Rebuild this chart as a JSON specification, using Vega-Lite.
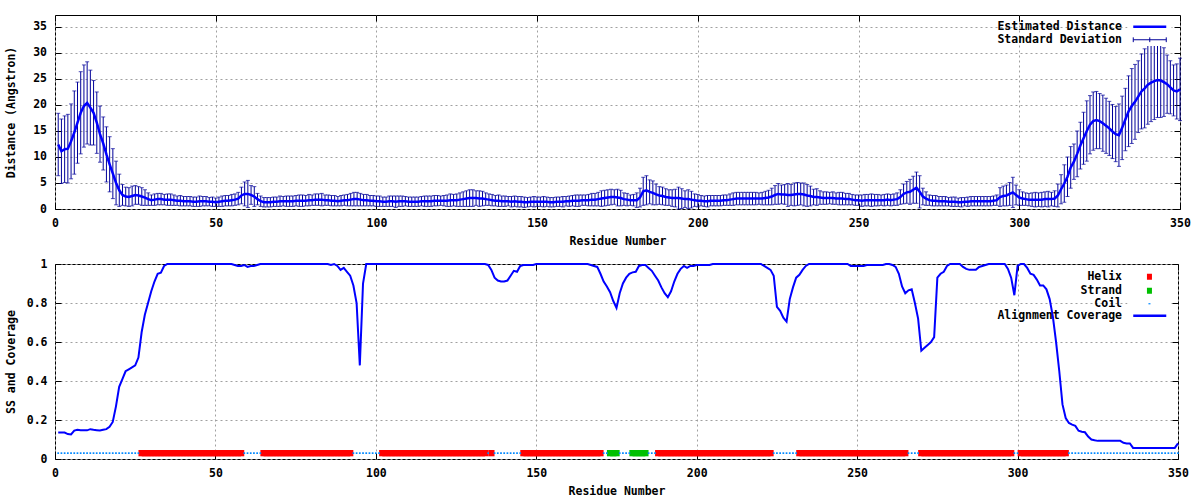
{
"$schema": "https://vega.github.io/schema/vega-lite/v6.json",
"background": "white",
"padding": {"left": 4, "top": 14, "right": 2, "bottom": 2},
"config": {
  "font": "DejaVu Sans Mono",
  "view": {"stroke": "black", "strokeWidth": 1},
  "axis": {"labelFont": "DejaVu Sans Mono", "labelFontWeight": "bold", "labelFontSize": 11.5, "labelColor": "black", "titleFont": "DejaVu Sans Mono", "titleFontWeight": "bold", "titleFontSize": 11.5, "titleColor": "black", "domain": false, "ticks": true, "tickSize": -6, "tickColor": "black", "tickWidth": 1, "gridColor": "#a0a0a0", "gridDash": [2, 3], "gridOpacity": 1, "gridWidth": 1, "labelFlush": false, "labelOverlap": false},
  "legend": {"labelFont": "DejaVu Sans Mono", "labelFontWeight": "bold", "labelFontSize": 11.5, "labelColor": "black", "labelLimit": 0}
},
"data": {"values": [
{"r":1,"d":12.4,"s":6.0,"c":0.136,"ss":"Coil"},
{"r":2,"d":11.1,"s":6.2,"c":0.136,"ss":"Coil"},
{"r":3,"d":11.5,"s":6.4,"c":0.136,"ss":"Coil"},
{"r":4,"d":11.6,"s":6.6,"c":0.128,"ss":"Coil"},
{"r":5,"d":13.0,"s":7.2,"c":0.126,"ss":"Coil"},
{"r":6,"d":14.7,"s":8.0,"c":0.146,"ss":"Coil"},
{"r":7,"d":16.6,"s":7.8,"c":0.15,"ss":"Coil"},
{"r":8,"d":18.5,"s":7.9,"c":0.148,"ss":"Coil"},
{"r":9,"d":19.8,"s":7.9,"c":0.147,"ss":"Coil"},
{"r":10,"d":20.4,"s":7.9,"c":0.147,"ss":"Coil"},
{"r":11,"d":19.5,"s":7.2,"c":0.153,"ss":"Coil"},
{"r":12,"d":18.5,"s":6.2,"c":0.15,"ss":"Coil"},
{"r":13,"d":16.6,"s":5.9,"c":0.148,"ss":"Coil"},
{"r":14,"d":14.4,"s":5.4,"c":0.146,"ss":"Coil"},
{"r":15,"d":12.6,"s":5.1,"c":0.15,"ss":"Coil"},
{"r":16,"d":10.5,"s":5.3,"c":0.153,"ss":"Coil"},
{"r":17,"d":8.6,"s":5.3,"c":0.165,"ss":"Coil"},
{"r":18,"d":6.8,"s":4.8,"c":0.19,"ss":"Coil"},
{"r":19,"d":5.0,"s":4.2,"c":0.27,"ss":"Coil"},
{"r":20,"d":3.6,"s":3.1,"c":0.37,"ss":"Coil"},
{"r":21,"d":2.7,"s":2.0,"c":0.41,"ss":"Coil"},
{"r":22,"d":2.4,"s":1.8,"c":0.45,"ss":"Coil"},
{"r":23,"d":2.3,"s":1.8,"c":0.46,"ss":"Coil"},
{"r":24,"d":2.5,"s":1.9,"c":0.47,"ss":"Coil"},
{"r":25,"d":2.7,"s":1.8,"c":0.48,"ss":"Coil"},
{"r":26,"d":2.6,"s":1.7,"c":0.52,"ss":"Coil"},
{"r":27,"d":2.4,"s":1.7,"c":0.65,"ss":"Helix"},
{"r":28,"d":2.2,"s":1.5,"c":0.74,"ss":"Helix"},
{"r":29,"d":1.9,"s":1.2,"c":0.8,"ss":"Helix"},
{"r":30,"d":1.7,"s":1.0,"c":0.86,"ss":"Helix"},
{"r":31,"d":1.8,"s":1.1,"c":0.91,"ss":"Helix"},
{"r":32,"d":1.9,"s":1.1,"c":0.95,"ss":"Helix"},
{"r":33,"d":1.9,"s":1.1,"c":0.955,"ss":"Helix"},
{"r":34,"d":1.8,"s":1.0,"c":0.99,"ss":"Helix"},
{"r":35,"d":1.8,"s":1.1,"c":1,"ss":"Helix"},
{"r":36,"d":1.8,"s":1.1,"c":1,"ss":"Helix"},
{"r":37,"d":1.7,"s":1.0,"c":1,"ss":"Helix"},
{"r":38,"d":1.6,"s":0.9,"c":1,"ss":"Helix"},
{"r":39,"d":1.6,"s":1.0,"c":1,"ss":"Helix"},
{"r":40,"d":1.5,"s":0.9,"c":1,"ss":"Helix"},
{"r":41,"d":1.5,"s":0.9,"c":1,"ss":"Helix"},
{"r":42,"d":1.5,"s":0.9,"c":1,"ss":"Helix"},
{"r":43,"d":1.4,"s":0.9,"c":1,"ss":"Helix"},
{"r":44,"d":1.4,"s":0.9,"c":1,"ss":"Helix"},
{"r":45,"d":1.5,"s":1.0,"c":1,"ss":"Helix"},
{"r":46,"d":1.5,"s":0.9,"c":1,"ss":"Helix"},
{"r":47,"d":1.5,"s":0.9,"c":1,"ss":"Helix"},
{"r":48,"d":1.4,"s":0.8,"c":1,"ss":"Helix"},
{"r":49,"d":1.4,"s":0.9,"c":1,"ss":"Helix"},
{"r":50,"d":1.3,"s":0.8,"c":1,"ss":"Helix"},
{"r":51,"d":1.4,"s":0.9,"c":1,"ss":"Helix"},
{"r":52,"d":1.5,"s":1.0,"c":1,"ss":"Helix"},
{"r":53,"d":1.6,"s":1.0,"c":1,"ss":"Helix"},
{"r":54,"d":1.6,"s":1.0,"c":1,"ss":"Helix"},
{"r":55,"d":1.7,"s":1.1,"c":1,"ss":"Helix"},
{"r":56,"d":1.8,"s":1.1,"c":0.995,"ss":"Helix"},
{"r":57,"d":2.0,"s":1.2,"c":0.99,"ss":"Helix"},
{"r":58,"d":2.6,"s":1.6,"c":0.99,"ss":"Helix"},
{"r":59,"d":2.9,"s":2.3,"c":0.995,"ss":"Coil"},
{"r":60,"d":2.9,"s":2.6,"c":0.985,"ss":"Coil"},
{"r":61,"d":2.7,"s":1.8,"c":0.99,"ss":"Coil"},
{"r":62,"d":2.4,"s":1.9,"c":0.99,"ss":"Coil"},
{"r":63,"d":1.9,"s":1.1,"c":0.995,"ss":"Coil"},
{"r":64,"d":1.5,"s":1.0,"c":1,"ss":"Coil"},
{"r":65,"d":1.3,"s":0.9,"c":1,"ss":"Helix"},
{"r":66,"d":1.3,"s":0.9,"c":1,"ss":"Helix"},
{"r":67,"d":1.3,"s":0.9,"c":1,"ss":"Helix"},
{"r":68,"d":1.4,"s":0.9,"c":1,"ss":"Helix"},
{"r":69,"d":1.4,"s":0.9,"c":1,"ss":"Helix"},
{"r":70,"d":1.5,"s":1.0,"c":1,"ss":"Helix"},
{"r":71,"d":1.5,"s":0.9,"c":1,"ss":"Helix"},
{"r":72,"d":1.5,"s":1.0,"c":1,"ss":"Helix"},
{"r":73,"d":1.5,"s":1.0,"c":1,"ss":"Helix"},
{"r":74,"d":1.5,"s":1.0,"c":1,"ss":"Helix"},
{"r":75,"d":1.6,"s":1.0,"c":1,"ss":"Helix"},
{"r":76,"d":1.6,"s":1.1,"c":1,"ss":"Helix"},
{"r":77,"d":1.6,"s":1.1,"c":1,"ss":"Helix"},
{"r":78,"d":1.6,"s":1.0,"c":1,"ss":"Helix"},
{"r":79,"d":1.7,"s":1.1,"c":1,"ss":"Helix"},
{"r":80,"d":1.7,"s":1.0,"c":1,"ss":"Helix"},
{"r":81,"d":1.8,"s":1.1,"c":1,"ss":"Helix"},
{"r":82,"d":1.8,"s":1.1,"c":1,"ss":"Helix"},
{"r":83,"d":1.8,"s":1.2,"c":1,"ss":"Helix"},
{"r":84,"d":1.7,"s":1.0,"c":1,"ss":"Helix"},
{"r":85,"d":1.7,"s":1.0,"c":1,"ss":"Helix"},
{"r":86,"d":1.6,"s":1.0,"c":0.995,"ss":"Helix"},
{"r":87,"d":1.6,"s":1.0,"c":1,"ss":"Helix"},
{"r":88,"d":1.5,"s":0.9,"c":0.99,"ss":"Helix"},
{"r":89,"d":1.6,"s":1.0,"c":0.97,"ss":"Helix"},
{"r":90,"d":1.7,"s":1.0,"c":0.98,"ss":"Helix"},
{"r":91,"d":1.7,"s":1.1,"c":0.96,"ss":"Helix"},
{"r":92,"d":1.8,"s":1.2,"c":0.94,"ss":"Helix"},
{"r":93,"d":1.9,"s":1.3,"c":0.89,"ss":"Coil"},
{"r":94,"d":1.9,"s":1.3,"c":0.8,"ss":"Coil"},
{"r":95,"d":1.8,"s":1.2,"c":0.48,"ss":"Coil"},
{"r":96,"d":1.7,"s":1.1,"c":0.9,"ss":"Coil"},
{"r":97,"d":1.7,"s":1.1,"c":1,"ss":"Coil"},
{"r":98,"d":1.6,"s":1.0,"c":1,"ss":"Coil"},
{"r":99,"d":1.6,"s":1.0,"c":1,"ss":"Coil"},
{"r":100,"d":1.5,"s":1.0,"c":1,"ss":"Coil"},
{"r":101,"d":1.5,"s":1.0,"c":1,"ss":"Coil"},
{"r":102,"d":1.4,"s":0.9,"c":1,"ss":"Helix"},
{"r":103,"d":1.4,"s":0.9,"c":1,"ss":"Helix"},
{"r":104,"d":1.5,"s":1.0,"c":1,"ss":"Helix"},
{"r":105,"d":1.5,"s":1.0,"c":1,"ss":"Helix"},
{"r":106,"d":1.4,"s":1.1,"c":1,"ss":"Helix"},
{"r":107,"d":1.5,"s":1.0,"c":1,"ss":"Helix"},
{"r":108,"d":1.5,"s":1.0,"c":1,"ss":"Helix"},
{"r":109,"d":1.5,"s":0.9,"c":1,"ss":"Helix"},
{"r":110,"d":1.4,"s":0.9,"c":1,"ss":"Helix"},
{"r":111,"d":1.4,"s":0.9,"c":1,"ss":"Helix"},
{"r":112,"d":1.4,"s":0.9,"c":1,"ss":"Helix"},
{"r":113,"d":1.4,"s":0.9,"c":1,"ss":"Helix"},
{"r":114,"d":1.5,"s":0.9,"c":1,"ss":"Helix"},
{"r":115,"d":1.5,"s":1.0,"c":1,"ss":"Helix"},
{"r":116,"d":1.5,"s":1.0,"c":1,"ss":"Helix"},
{"r":117,"d":1.5,"s":1.0,"c":1,"ss":"Helix"},
{"r":118,"d":1.6,"s":1.0,"c":1,"ss":"Helix"},
{"r":119,"d":1.6,"s":1.0,"c":1,"ss":"Helix"},
{"r":120,"d":1.6,"s":0.9,"c":1,"ss":"Helix"},
{"r":121,"d":1.6,"s":1.0,"c":1,"ss":"Helix"},
{"r":122,"d":1.6,"s":1.1,"c":1,"ss":"Helix"},
{"r":123,"d":1.7,"s":1.2,"c":1,"ss":"Helix"},
{"r":124,"d":1.7,"s":1.1,"c":1,"ss":"Helix"},
{"r":125,"d":1.7,"s":1.2,"c":1,"ss":"Helix"},
{"r":126,"d":1.8,"s":1.3,"c":1,"ss":"Helix"},
{"r":127,"d":1.9,"s":1.4,"c":1,"ss":"Helix"},
{"r":128,"d":2.0,"s":1.5,"c":1,"ss":"Helix"},
{"r":129,"d":2.1,"s":1.6,"c":1,"ss":"Helix"},
{"r":130,"d":2.1,"s":1.6,"c":1,"ss":"Helix"},
{"r":131,"d":2.1,"s":1.4,"c":1,"ss":"Helix"},
{"r":132,"d":2.0,"s":1.5,"c":1,"ss":"Helix"},
{"r":133,"d":2.0,"s":1.4,"c":1,"ss":"Helix"},
{"r":134,"d":1.9,"s":1.2,"c":1,"ss":"Helix"},
{"r":135,"d":1.8,"s":1.1,"c":0.995,"ss":"Coil"},
{"r":136,"d":1.7,"s":1.1,"c":0.97,"ss":"Helix"},
{"r":137,"d":1.6,"s":1.0,"c":0.93,"ss":"Coil"},
{"r":138,"d":1.6,"s":1.1,"c":0.915,"ss":"Coil"},
{"r":139,"d":1.5,"s":1.0,"c":0.91,"ss":"Coil"},
{"r":140,"d":1.5,"s":1.0,"c":0.91,"ss":"Coil"},
{"r":141,"d":1.5,"s":0.9,"c":0.915,"ss":"Coil"},
{"r":142,"d":1.4,"s":1.0,"c":0.94,"ss":"Coil"},
{"r":143,"d":1.5,"s":1.0,"c":0.965,"ss":"Coil"},
{"r":144,"d":1.4,"s":1.0,"c":0.96,"ss":"Coil"},
{"r":145,"d":1.4,"s":1.0,"c":0.99,"ss":"Coil"},
{"r":146,"d":1.3,"s":1.0,"c":0.995,"ss":"Helix"},
{"r":147,"d":1.3,"s":0.9,"c":0.995,"ss":"Helix"},
{"r":148,"d":1.4,"s":0.9,"c":0.995,"ss":"Helix"},
{"r":149,"d":1.4,"s":1.0,"c":0.995,"ss":"Helix"},
{"r":150,"d":1.4,"s":0.9,"c":1,"ss":"Helix"},
{"r":151,"d":1.4,"s":0.9,"c":1,"ss":"Helix"},
{"r":152,"d":1.4,"s":1.0,"c":1,"ss":"Helix"},
{"r":153,"d":1.4,"s":0.9,"c":1,"ss":"Helix"},
{"r":154,"d":1.3,"s":0.9,"c":1,"ss":"Helix"},
{"r":155,"d":1.3,"s":0.9,"c":1,"ss":"Helix"},
{"r":156,"d":1.4,"s":0.9,"c":1,"ss":"Helix"},
{"r":157,"d":1.4,"s":0.9,"c":1,"ss":"Helix"},
{"r":158,"d":1.4,"s":1.0,"c":1,"ss":"Helix"},
{"r":159,"d":1.5,"s":0.9,"c":1,"ss":"Helix"},
{"r":160,"d":1.5,"s":1.0,"c":1,"ss":"Helix"},
{"r":161,"d":1.6,"s":1.0,"c":1,"ss":"Helix"},
{"r":162,"d":1.6,"s":1.1,"c":1,"ss":"Helix"},
{"r":163,"d":1.6,"s":1.1,"c":1,"ss":"Helix"},
{"r":164,"d":1.7,"s":1.0,"c":1,"ss":"Helix"},
{"r":165,"d":1.7,"s":1.0,"c":1,"ss":"Helix"},
{"r":166,"d":1.7,"s":1.1,"c":1,"ss":"Helix"},
{"r":167,"d":1.8,"s":1.2,"c":0.995,"ss":"Helix"},
{"r":168,"d":1.8,"s":1.2,"c":0.99,"ss":"Helix"},
{"r":169,"d":1.9,"s":1.3,"c":0.985,"ss":"Helix"},
{"r":170,"d":2.0,"s":1.5,"c":0.95,"ss":"Helix"},
{"r":171,"d":2.1,"s":1.5,"c":0.91,"ss":"Coil"},
{"r":172,"d":2.2,"s":1.5,"c":0.885,"ss":"Coil"},
{"r":173,"d":2.3,"s":1.5,"c":0.855,"ss":"Strand"},
{"r":174,"d":2.3,"s":1.4,"c":0.81,"ss":"Strand"},
{"r":175,"d":2.2,"s":1.6,"c":0.775,"ss":"Strand"},
{"r":176,"d":2.1,"s":1.5,"c":0.85,"ss":"Coil"},
{"r":177,"d":1.9,"s":1.2,"c":0.9,"ss":"Coil"},
{"r":178,"d":1.8,"s":1.2,"c":0.93,"ss":"Coil"},
{"r":179,"d":1.7,"s":1.0,"c":0.95,"ss":"Coil"},
{"r":180,"d":1.7,"s":1.1,"c":0.957,"ss":"Strand"},
{"r":181,"d":1.7,"s":1.4,"c":0.96,"ss":"Strand"},
{"r":182,"d":2.2,"s":1.8,"c":0.99,"ss":"Strand"},
{"r":183,"d":3.4,"s":2.7,"c":0.995,"ss":"Strand"},
{"r":184,"d":3.6,"s":2.8,"c":0.995,"ss":"Strand"},
{"r":185,"d":3.3,"s":2.3,"c":0.98,"ss":"Coil"},
{"r":186,"d":3.1,"s":2.3,"c":0.965,"ss":"Coil"},
{"r":187,"d":2.8,"s":2.0,"c":0.94,"ss":"Coil"},
{"r":188,"d":2.6,"s":1.7,"c":0.915,"ss":"Helix"},
{"r":189,"d":2.5,"s":1.7,"c":0.88,"ss":"Helix"},
{"r":190,"d":2.3,"s":1.6,"c":0.85,"ss":"Helix"},
{"r":191,"d":2.2,"s":1.5,"c":0.83,"ss":"Helix"},
{"r":192,"d":2.1,"s":1.6,"c":0.86,"ss":"Helix"},
{"r":193,"d":2.1,"s":1.7,"c":0.91,"ss":"Helix"},
{"r":194,"d":2.1,"s":2.1,"c":0.95,"ss":"Helix"},
{"r":195,"d":2.0,"s":1.9,"c":0.975,"ss":"Helix"},
{"r":196,"d":1.9,"s":1.6,"c":0.99,"ss":"Helix"},
{"r":197,"d":1.9,"s":1.8,"c":0.98,"ss":"Helix"},
{"r":198,"d":1.8,"s":1.6,"c":0.99,"ss":"Helix"},
{"r":199,"d":1.7,"s":1.2,"c":0.99,"ss":"Helix"},
{"r":200,"d":1.6,"s":1.2,"c":0.995,"ss":"Helix"},
{"r":201,"d":1.6,"s":1.0,"c":0.995,"ss":"Helix"},
{"r":202,"d":1.5,"s":1.0,"c":0.995,"ss":"Helix"},
{"r":203,"d":1.5,"s":1.1,"c":0.995,"ss":"Helix"},
{"r":204,"d":1.6,"s":1.0,"c":0.995,"ss":"Helix"},
{"r":205,"d":1.6,"s":1.0,"c":1,"ss":"Helix"},
{"r":206,"d":1.6,"s":1.0,"c":1,"ss":"Helix"},
{"r":207,"d":1.6,"s":1.0,"c":1,"ss":"Helix"},
{"r":208,"d":1.7,"s":1.0,"c":1,"ss":"Helix"},
{"r":209,"d":1.7,"s":1.0,"c":1,"ss":"Helix"},
{"r":210,"d":1.8,"s":1.1,"c":1,"ss":"Helix"},
{"r":211,"d":1.9,"s":1.2,"c":1,"ss":"Helix"},
{"r":212,"d":2.0,"s":1.2,"c":1,"ss":"Helix"},
{"r":213,"d":2.0,"s":1.2,"c":1,"ss":"Helix"},
{"r":214,"d":2.0,"s":1.2,"c":1,"ss":"Helix"},
{"r":215,"d":2.0,"s":1.2,"c":1,"ss":"Helix"},
{"r":216,"d":2.0,"s":1.2,"c":1,"ss":"Helix"},
{"r":217,"d":2.0,"s":1.2,"c":1,"ss":"Helix"},
{"r":218,"d":2.0,"s":1.2,"c":1,"ss":"Helix"},
{"r":219,"d":2.0,"s":1.1,"c":1,"ss":"Helix"},
{"r":220,"d":2.0,"s":1.2,"c":1,"ss":"Helix"},
{"r":221,"d":2.1,"s":1.3,"c":0.99,"ss":"Helix"},
{"r":222,"d":2.2,"s":1.4,"c":0.98,"ss":"Helix"},
{"r":223,"d":2.4,"s":1.6,"c":0.97,"ss":"Helix"},
{"r":224,"d":2.7,"s":1.8,"c":0.94,"ss":"Coil"},
{"r":225,"d":2.9,"s":2.0,"c":0.78,"ss":"Coil"},
{"r":226,"d":2.8,"s":1.8,"c":0.76,"ss":"Coil"},
{"r":227,"d":2.8,"s":1.9,"c":0.725,"ss":"Coil"},
{"r":228,"d":2.7,"s":2.2,"c":0.705,"ss":"Coil"},
{"r":229,"d":2.7,"s":2.0,"c":0.82,"ss":"Coil"},
{"r":230,"d":2.8,"s":2.2,"c":0.88,"ss":"Coil"},
{"r":231,"d":2.9,"s":2.2,"c":0.93,"ss":"Coil"},
{"r":232,"d":2.9,"s":2.1,"c":0.945,"ss":"Helix"},
{"r":233,"d":2.8,"s":2.2,"c":0.97,"ss":"Helix"},
{"r":234,"d":2.6,"s":2.1,"c":0.99,"ss":"Helix"},
{"r":235,"d":2.5,"s":1.9,"c":1,"ss":"Helix"},
{"r":236,"d":2.3,"s":1.5,"c":1,"ss":"Helix"},
{"r":237,"d":2.3,"s":1.6,"c":1,"ss":"Helix"},
{"r":238,"d":2.2,"s":1.3,"c":1,"ss":"Helix"},
{"r":239,"d":2.1,"s":1.2,"c":1,"ss":"Helix"},
{"r":240,"d":2.1,"s":1.2,"c":1,"ss":"Helix"},
{"r":241,"d":2.1,"s":1.1,"c":1,"ss":"Helix"},
{"r":242,"d":2.1,"s":1.2,"c":1,"ss":"Helix"},
{"r":243,"d":2.0,"s":1.1,"c":1,"ss":"Helix"},
{"r":244,"d":2.0,"s":1.2,"c":1,"ss":"Helix"},
{"r":245,"d":2.0,"s":1.2,"c":1,"ss":"Helix"},
{"r":246,"d":1.9,"s":1.1,"c":1,"ss":"Helix"},
{"r":247,"d":1.9,"s":1.1,"c":1,"ss":"Helix"},
{"r":248,"d":1.8,"s":1.0,"c":0.99,"ss":"Helix"},
{"r":249,"d":1.7,"s":1.0,"c":0.99,"ss":"Helix"},
{"r":250,"d":1.7,"s":1.0,"c":0.99,"ss":"Helix"},
{"r":251,"d":1.6,"s":1.1,"c":0.99,"ss":"Helix"},
{"r":252,"d":1.7,"s":1.1,"c":0.99,"ss":"Helix"},
{"r":253,"d":1.7,"s":1.1,"c":0.995,"ss":"Helix"},
{"r":254,"d":1.7,"s":1.2,"c":0.995,"ss":"Helix"},
{"r":255,"d":1.7,"s":1.1,"c":0.995,"ss":"Helix"},
{"r":256,"d":1.7,"s":1.1,"c":0.995,"ss":"Helix"},
{"r":257,"d":1.7,"s":1.0,"c":0.995,"ss":"Helix"},
{"r":258,"d":1.7,"s":1.1,"c":0.995,"ss":"Helix"},
{"r":259,"d":1.8,"s":1.1,"c":1,"ss":"Helix"},
{"r":260,"d":1.7,"s":1.1,"c":1,"ss":"Helix"},
{"r":261,"d":1.8,"s":1.1,"c":0.995,"ss":"Helix"},
{"r":262,"d":1.9,"s":1.2,"c":0.985,"ss":"Helix"},
{"r":263,"d":2.3,"s":1.4,"c":0.95,"ss":"Helix"},
{"r":264,"d":2.9,"s":1.9,"c":0.885,"ss":"Helix"},
{"r":265,"d":3.2,"s":2.1,"c":0.85,"ss":"Helix"},
{"r":266,"d":3.3,"s":2.4,"c":0.865,"ss":"Coil"},
{"r":267,"d":3.7,"s":2.6,"c":0.87,"ss":"Coil"},
{"r":268,"d":4.1,"s":3.0,"c":0.8,"ss":"Coil"},
{"r":269,"d":3.3,"s":3.1,"c":0.72,"ss":"Coil"},
{"r":270,"d":2.4,"s":1.6,"c":0.555,"ss":"Helix"},
{"r":271,"d":2.0,"s":1.3,"c":0.57,"ss":"Helix"},
{"r":272,"d":1.7,"s":1.0,"c":0.585,"ss":"Helix"},
{"r":273,"d":1.6,"s":1.0,"c":0.6,"ss":"Helix"},
{"r":274,"d":1.6,"s":1.0,"c":0.625,"ss":"Helix"},
{"r":275,"d":1.5,"s":0.9,"c":0.93,"ss":"Helix"},
{"r":276,"d":1.5,"s":0.9,"c":0.95,"ss":"Helix"},
{"r":277,"d":1.5,"s":0.9,"c":0.96,"ss":"Helix"},
{"r":278,"d":1.4,"s":0.8,"c":0.99,"ss":"Helix"},
{"r":279,"d":1.4,"s":0.9,"c":1,"ss":"Helix"},
{"r":280,"d":1.4,"s":0.9,"c":1,"ss":"Helix"},
{"r":281,"d":1.3,"s":0.8,"c":1,"ss":"Helix"},
{"r":282,"d":1.3,"s":0.9,"c":1,"ss":"Helix"},
{"r":283,"d":1.4,"s":0.8,"c":0.985,"ss":"Helix"},
{"r":284,"d":1.4,"s":0.9,"c":0.975,"ss":"Helix"},
{"r":285,"d":1.5,"s":0.9,"c":0.97,"ss":"Helix"},
{"r":286,"d":1.5,"s":0.9,"c":0.97,"ss":"Helix"},
{"r":287,"d":1.5,"s":0.9,"c":0.97,"ss":"Helix"},
{"r":288,"d":1.5,"s":0.9,"c":0.985,"ss":"Helix"},
{"r":289,"d":1.5,"s":0.9,"c":0.99,"ss":"Helix"},
{"r":290,"d":1.5,"s":0.9,"c":0.995,"ss":"Helix"},
{"r":291,"d":1.5,"s":0.9,"c":1,"ss":"Helix"},
{"r":292,"d":1.6,"s":0.9,"c":1,"ss":"Helix"},
{"r":293,"d":1.7,"s":1.0,"c":1,"ss":"Helix"},
{"r":294,"d":2.3,"s":1.8,"c":1,"ss":"Helix"},
{"r":295,"d":2.5,"s":1.9,"c":1,"ss":"Helix"},
{"r":296,"d":2.6,"s":2.0,"c":1,"ss":"Helix"},
{"r":297,"d":2.9,"s":2.2,"c":0.975,"ss":"Helix"},
{"r":298,"d":3.2,"s":2.9,"c":0.93,"ss":"Helix"},
{"r":299,"d":2.7,"s":1.9,"c":0.84,"ss":"Coil"},
{"r":300,"d":2.2,"s":1.5,"c":0.99,"ss":"Coil"},
{"r":301,"d":2.0,"s":1.3,"c":1,"ss":"Helix"},
{"r":302,"d":1.9,"s":1.2,"c":1,"ss":"Helix"},
{"r":303,"d":1.8,"s":1.2,"c":0.98,"ss":"Helix"},
{"r":304,"d":1.8,"s":1.3,"c":0.95,"ss":"Helix"},
{"r":305,"d":1.8,"s":1.4,"c":0.944,"ss":"Helix"},
{"r":306,"d":1.8,"s":1.3,"c":0.92,"ss":"Helix"},
{"r":307,"d":1.8,"s":1.4,"c":0.89,"ss":"Helix"},
{"r":308,"d":1.9,"s":1.4,"c":0.89,"ss":"Helix"},
{"r":309,"d":1.9,"s":1.5,"c":0.87,"ss":"Helix"},
{"r":310,"d":1.9,"s":1.3,"c":0.82,"ss":"Helix"},
{"r":311,"d":2.0,"s":1.5,"c":0.73,"ss":"Helix"},
{"r":312,"d":2.6,"s":2.2,"c":0.6,"ss":"Helix"},
{"r":313,"d":3.8,"s":2.8,"c":0.45,"ss":"Helix"},
{"r":314,"d":4.9,"s":3.6,"c":0.28,"ss":"Helix"},
{"r":315,"d":6.2,"s":3.8,"c":0.21,"ss":"Helix"},
{"r":316,"d":8.0,"s":4.0,"c":0.185,"ss":"Coil"},
{"r":317,"d":9.1,"s":3.4,"c":0.176,"ss":"Coil"},
{"r":318,"d":10.6,"s":4.4,"c":0.17,"ss":"Coil"},
{"r":319,"d":12.2,"s":4.5,"c":0.145,"ss":"Coil"},
{"r":320,"d":13.6,"s":5.0,"c":0.14,"ss":"Coil"},
{"r":321,"d":15.0,"s":5.8,"c":0.137,"ss":"Coil"},
{"r":322,"d":16.2,"s":5.6,"c":0.115,"ss":"Coil"},
{"r":323,"d":16.9,"s":5.6,"c":0.1,"ss":"Coil"},
{"r":324,"d":17.1,"s":5.5,"c":0.096,"ss":"Coil"},
{"r":325,"d":16.9,"s":5.3,"c":0.093,"ss":"Coil"},
{"r":326,"d":16.5,"s":5.4,"c":0.093,"ss":"Coil"},
{"r":327,"d":16.0,"s":5.3,"c":0.093,"ss":"Coil"},
{"r":328,"d":15.5,"s":5.2,"c":0.093,"ss":"Coil"},
{"r":329,"d":14.9,"s":5.2,"c":0.093,"ss":"Coil"},
{"r":330,"d":14.4,"s":5.3,"c":0.093,"ss":"Coil"},
{"r":331,"d":14.2,"s":6.0,"c":0.093,"ss":"Coil"},
{"r":332,"d":15.6,"s":6.1,"c":0.093,"ss":"Coil"},
{"r":333,"d":17.2,"s":6.0,"c":0.083,"ss":"Coil"},
{"r":334,"d":18.8,"s":6.8,"c":0.08,"ss":"Coil"},
{"r":335,"d":19.8,"s":7.2,"c":0.08,"ss":"Coil"},
{"r":336,"d":20.6,"s":7.2,"c":0.057,"ss":"Coil"},
{"r":337,"d":21.6,"s":6.9,"c":0.057,"ss":"Coil"},
{"r":338,"d":22.6,"s":7.2,"c":0.057,"ss":"Coil"},
{"r":339,"d":23.2,"s":7.6,"c":0.057,"ss":"Coil"},
{"r":340,"d":23.9,"s":7.6,"c":0.057,"ss":"Coil"},
{"r":341,"d":24.3,"s":7.5,"c":0.057,"ss":"Coil"},
{"r":342,"d":24.6,"s":7.4,"c":0.057,"ss":"Coil"},
{"r":343,"d":24.8,"s":7.2,"c":0.057,"ss":"Coil"},
{"r":344,"d":24.7,"s":7.1,"c":0.057,"ss":"Coil"},
{"r":345,"d":24.4,"s":6.6,"c":0.057,"ss":"Coil"},
{"r":346,"d":24.0,"s":5.6,"c":0.057,"ss":"Coil"},
{"r":347,"d":23.4,"s":5.1,"c":0.057,"ss":"Coil"},
{"r":348,"d":22.8,"s":4.9,"c":0.057,"ss":"Coil"},
{"r":349,"d":22.6,"s":5.3,"c":0.057,"ss":"Coil"},
{"r":350,"d":23.0,"s":6.0,"c":0.08,"ss":"Coil"}
]},
"columns": 1,
"spacing": 10,
"resolve": {"scale": {"color": "independent", "stroke": "independent"}, "legend": {"color": "independent", "stroke": "independent"}},
"concat": [
{
  "width": 1125, "height": 194,
  "layer": [
    {
      "mark": {"type": "errorbar", "ticks": true, "size": 4, "thickness": 1},
      "encoding": {
        "x": {"field": "r", "type": "quantitative", "scale": {"domain": [0, 350], "nice": false, "zero": false},
              "axis": {"orient": "bottom", "values": [0, 50, 100, 150, 200, 250, 300, 350], "format": "d", "title": "Residue Number", "grid": true, "labelPadding": 14.5, "titlePadding": 6}},
        "y": {"field": "d", "type": "quantitative", "scale": {"domain": [0, 37.3], "nice": false},
              "axis": {"orient": "left", "values": [0, 5, 10, 15, 20, 25, 30, 35], "format": "d", "title": "Distance (Angstron)", "grid": true, "labelPadding": 14.5, "titlePadding": 16}},
        "yError": {"field": "s"},
        "color": {"datum": "Standard Deviation", "type": "nominal",
                  "scale": {"domain": ["Estimated Distance", "Standard Deviation"], "range": ["#0000ff", "#000099"]},
                  "legend": {"title": null, "orient": "none", "legendX": 1072.5, "legendY": 6, "padding": 0, "rowPadding": 0, "fillColor": "white",
                             "symbolSize": 144, "symbolStrokeWidth": 1, "symbolOffset": 0, "labelAlign": "right", "labelOffset": -17,
                             "encode": {"symbols": {"update": {
                               "shape": {"signal": "datum.value === 'Estimated Distance' ? 'M0,0H5.5' : 'M0,0H5.5M0,-0.4V0.4M5.5,-0.4V0.4M2.75,-0.4V0.4'"},
                               "stroke": {"signal": "datum.value === 'Estimated Distance' ? '#0000ff' : '#000099'"},
                               "strokeWidth": {"signal": "datum.value === 'Estimated Distance' ? 2.5 : 1"},
                               "fill": {"value": "transparent"},
                               "size": {"value": 144},
                               "opacity": {"value": 1}}}}}}
      }
    },
    {
      "mark": {"type": "line", "strokeWidth": 2.5},
      "encoding": {
        "x": {"field": "r", "type": "quantitative", "axis": null},
        "y": {"field": "d", "type": "quantitative", "axis": null},
        "color": {"datum": "Estimated Distance", "type": "nominal"}
      }
    },
    {
      "mark": {"type": "line", "opacity": 0},
      "encoding": {
        "x": {"field": "r", "type": "quantitative", "axis": {"orient": "top", "values": [0, 50, 100, 150, 200, 250, 300, 350], "labels": false, "title": null, "grid": false}},
        "y": {"field": "d", "type": "quantitative", "axis": {"orient": "right", "values": [0, 5, 10, 15, 20, 25, 30, 35], "labels": false, "title": null, "grid": false}}
      }
    }
  ],
  "resolve": {"axis": {"x": "independent", "y": "independent"}}
},
{
  "width": 1123, "height": 195,
  "layer": [
    {
      "transform": [{"filter": "datum.ss !== 'Coil'"}],
      "mark": {"type": "point", "shape": "square", "filled": true, "opacity": 1, "size": 40},
      "encoding": {
        "x": {"field": "r", "type": "quantitative", "scale": {"domain": [0, 350], "nice": false, "zero": false},
              "axis": {"orient": "bottom", "values": [0, 50, 100, 150, 200, 250, 300, 350], "format": "d", "title": "Residue Number", "grid": true, "labelPadding": 14.5, "titlePadding": 6}},
        "y": {"datum": 0.03, "type": "quantitative", "scale": {"domain": [0, 1], "nice": false},
              "axis": {"orient": "left", "values": [0, 0.2, 0.4, 0.6, 0.8, 1], "format": ".1~f", "title": "SS and Coverage", "grid": true, "labelPadding": 14, "titlePadding": 10}},
        "color": {"field": "ss", "type": "nominal",
                  "scale": {"domain": ["Helix", "Strand", "Coil"], "range": ["#ff0000", "#00c000", "#0088ff"]},
                  "legend": null}
      }
    },
    {
      "transform": [{"filter": "datum.ss === 'Coil'"}],
      "mark": {"type": "point", "shape": "square", "filled": true, "opacity": 1, "size": 3},
      "encoding": {
        "x": {"field": "r", "type": "quantitative", "axis": null},
        "y": {"datum": 0.03, "type": "quantitative", "axis": null},
        "color": {"field": "ss", "type": "nominal", "legend": null}
      }
    },
    {
      "mark": {"type": "line", "strokeWidth": 2},
      "encoding": {
        "x": {"field": "r", "type": "quantitative", "axis": null},
        "y": {"field": "c", "type": "quantitative", "axis": null},
        "stroke": {"datum": "Alignment Coverage", "type": "nominal",
                  "scale": {"domain": ["Helix", "Strand", "Coil", "Alignment Coverage"], "range": ["#ff0000", "#00c000", "#0088ff", "#0000ff"]},
                  "legend": {"title": null, "orient": "none", "legendX": 1072.5, "legendY": 7, "padding": 0, "rowPadding": -1, "fillColor": "white",
                             "symbolSize": 144, "symbolStrokeWidth": 1, "symbolOffset": 0, "labelAlign": "right", "labelOffset": -17,
                             "encode": {"symbols": {"update": {
                               "shape": {"signal": "datum.value === 'Helix' || datum.value === 'Strand' ? 'M2.45,-0.5V0.5M2.62,-0.5V0.5M2.78,-0.5V0.5M2.95,-0.5V0.5' : datum.value === 'Coil' ? 'M2.7,-0.1V0.1' : 'M0,0H5.5'"},
                               "stroke": {"signal": "datum.value === 'Helix' ? '#ff0000' : datum.value === 'Strand' ? '#00c000' : datum.value === 'Coil' ? '#0088ff' : '#0000ff'"},
                               "strokeWidth": {"signal": "datum.value === 'Alignment Coverage' ? 2.5 : 2"},
                               "fill": {"value": "transparent"},
                               "size": {"value": 144},
                               "opacity": {"value": 1}}}}}}
      }
    },
    {
      "mark": {"type": "line", "opacity": 0},
      "encoding": {
        "x": {"field": "r", "type": "quantitative", "axis": {"orient": "top", "values": [0, 50, 100, 150, 200, 250, 300, 350], "labels": false, "title": null, "grid": false}},
        "y": {"field": "c", "type": "quantitative", "axis": {"orient": "right", "values": [0, 0.2, 0.4, 0.6, 0.8, 1], "labels": false, "title": null, "grid": false}}
      }
    }
  ],
  "resolve": {"axis": {"x": "independent", "y": "independent"}}
}
]
}
